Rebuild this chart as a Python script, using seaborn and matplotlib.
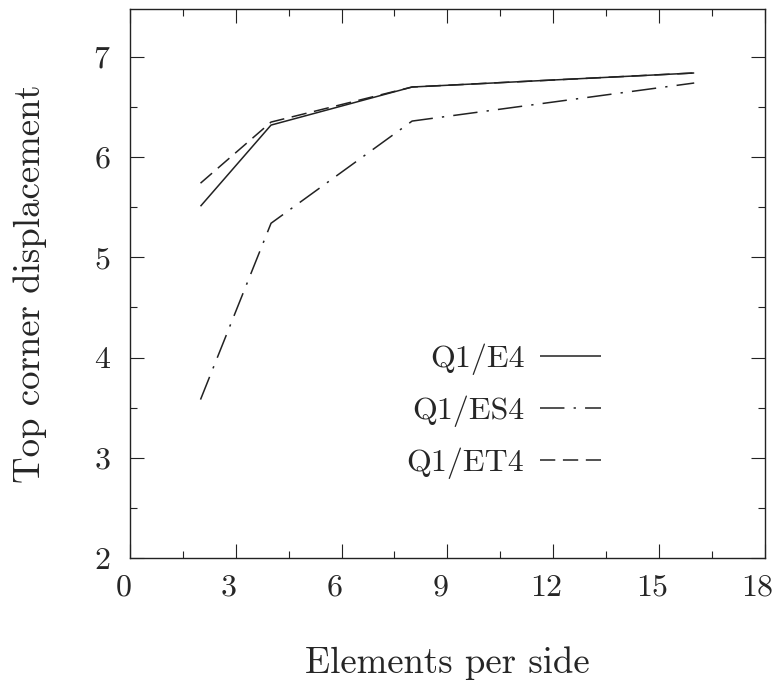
import matplotlib
matplotlib.use("Agg")
import matplotlib.pyplot as plt
import seaborn as sns
import pandas as pd
from matplotlib.ticker import MultipleLocator
from matplotlib.transforms import ScaledTranslation

elements = [2, 4, 8, 16]
q1_e4 = [5.51, 6.32, 6.70, 6.84]
q1_es4 = [3.58, 5.34, 6.36, 6.74]
q1_et4 = [5.74, 6.35, 6.70, 6.84]
labels = ["Q1/E4", "Q1/ES4", "Q1/ET4"]

sns.set_theme(style="ticks")
plt.rcParams["font.family"] = ["cmr10", "DejaVu Serif"]
plt.rcParams["axes.formatter.use_mathtext"] = True
plt.rcParams["mathtext.fontset"] = "cm"

fig = plt.figure(figsize=(7.76, 6.82), dpi=100)
ax = fig.add_axes([0.1675, 0.182, 0.818, 0.805])

series = [q1_e4, q1_es4, q1_et4]
styles = [(0, ()), (0, (16, 6, 1.5, 6)), (0, (10, 5))]
for lab, vals, ls in zip(labels, series, styles):
    df = pd.DataFrame({"x": elements, "y": vals})
    sns.lineplot(data=df, x="x", y="y", ax=ax, color="#222222", lw=1.1,
                 linestyle=ls, label=lab)

ax.set_xlim(0, 18)
ax.set_ylim(2, 7.48)
ax.xaxis.set_major_locator(MultipleLocator(3))
ax.xaxis.set_minor_locator(MultipleLocator(1.5))
ax.yaxis.set_major_locator(MultipleLocator(1))
ax.yaxis.set_minor_locator(MultipleLocator(0.5))
ax.tick_params(which="both", direction="in", top=True, right=True,
               labelsize=23, width=0.8, color="#222222")
ax.tick_params(axis="x", which="major", pad=12)
ax.tick_params(axis="y", which="major", pad=14)
ax.tick_params(which="major", length=10)
ax.tick_params(which="minor", length=5)
for s in ax.spines.values():
    s.set_linewidth(1.0)
    s.set_color("#222222")

shift = ScaledTranslation(-7 / 100, 0, fig.dpi_scale_trans)
for t in ax.get_xticklabels():
    t.set_transform(t.get_transform() + shift)

ax.set_xlabel("Elements per side", fontsize=26.5, labelpad=32)
ax.set_ylabel("Top corner displacement", fontsize=26.5, labelpad=33)

leg = ax.legend(loc="upper right", bbox_to_anchor=(0.742, 0.39), frameon=False,
                markerfirst=False, fontsize=23, handlelength=1.9,
                labelspacing=0.64, handletextpad=0.5, borderpad=0,
                borderaxespad=0)
for h in leg.get_lines():
    h.set_linewidth(1.1)

fig.savefig("out.png", dpi=100)
